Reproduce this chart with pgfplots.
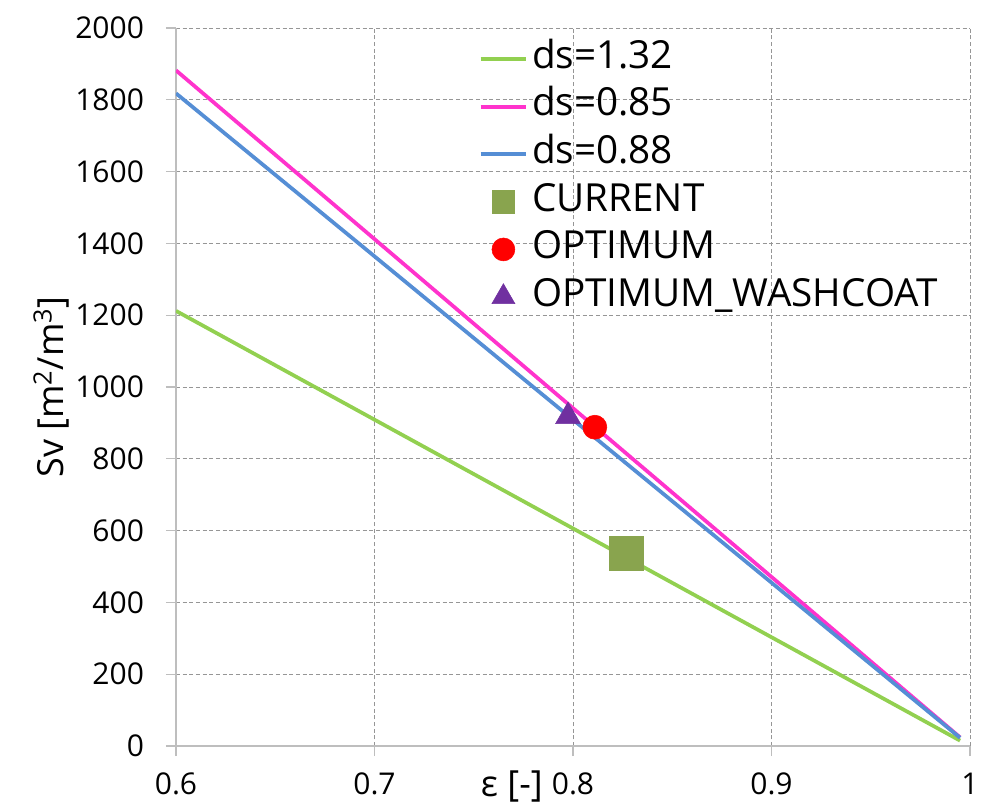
\documentclass[border=0pt]{standalone}
\usepackage{fontspec}
\setmainfont{Open Sans}
\usepackage{graphicx}
\usepackage{pgfplots}
\pgfplotsset{compat=1.18}
\definecolor{cgreen}{RGB}{146,208,80}
\definecolor{cpink}{RGB}{255,51,204}
\definecolor{cblue}{RGB}{85,142,213}
\definecolor{csq}{RGB}{137,164,78}
\definecolor{cpurple}{RGB}{112,48,160}
\definecolor{cgrid}{RGB}{150,150,150}
\definecolor{caxis}{RGB}{190,190,190}
\pgfplotsset{
  myleg/.style={legend image code/.code={\draw[##1, mark repeat=2, mark phase=2] plot coordinates {(0cm,0cm) (0.6cm,0cm) (1.2cm,0cm)};}},
}
\begin{document}
\begin{tikzpicture}
\begin{axis}[
  at={(0,0)}, anchor=south west,
  scale only axis, width=595.5pt, height=538.5pt,
  xmin=0.6, xmax=1, ymin=0, ymax=2000,
  xtick={0.6,0.7,0.8,0.9,1}, ytick={0,200,...,2000},
  separate axis lines,
  axis x line*=bottom, axis y line*=left,
  axis line style={caxis, line width=1.2pt},
  grid=major, major grid style={cgrid, dash pattern=on 3pt off 2pt, line width=0.6pt},
  tick align=outside, major tick length=7.5pt,
  tick style={caxis, line width=1pt, solid},
  /pgf/number format/assume math mode=true,
  /pgf/number format/1000 sep={},
  ticklabel style={font=\fontsize{22.5}{26}\selectfont, text=black},
  yticklabel style={xshift=-13pt},
  xticklabel style={yshift=-9pt},
  xlabel={ε [-]},
  xlabel style={at={(axis description cs:0.423,-0.071)}, anchor=base, font=\fontsize{27}{30}\selectfont},
  ylabel={Sv [m\textsuperscript{2}/m\textsuperscript{3}]},
  ylabel style={at={(axis description cs:-0.157,0.5)}, anchor=center, font=\fontsize{27}{30}\selectfont},
  legend cell align=left,
  legend style={at={(axis description cs:0.381,0.985)}, anchor=north west, draw=none, fill=none,
    inner sep=0pt, font=\fontsize{29}{33}\selectfont,
    nodes={inner sep=0pt, text height=22pt, text depth=8pt},
    row sep=5.7pt, /tikz/column sep=3pt},
]
\addplot[cgreen, line width=2.8pt, myleg] coordinates {(0.6,1212) (0.7,909) (0.8,606) (0.9,303) (0.995,15)};
\addlegendentry{ds=1.32}
\addplot[cpink, line width=2.8pt, myleg] coordinates {(0.6,1882) (0.7,1412) (0.8,941) (0.9,471) (0.995,24)};
\addlegendentry{ds=0.85}
\addplot[cblue, line width=2.8pt, myleg] coordinates {(0.6,1818) (0.7,1364) (0.8,909) (0.9,455) (0.995,23)};
\addlegendentry{ds=0.88}
\addplot[only marks, mark=square*, mark size=12.75pt, color=csq, myleg, legend image post style={mark size=8.5pt}] coordinates {(0.827,537)};
\addlegendentry{CURRENT}
\addplot[only marks, mark=*, mark size=9pt, color=red, myleg, legend image post style={mark size=8.6pt}] coordinates {(0.811,888)};
\addlegendentry{OPTIMUM}
\addplot[only marks, mark=triangle*, mark size=10.8pt, color=cpurple, myleg, legend image post style={mark size=10pt}] coordinates {(0.7975,918)};
\addlegendentry{OPTIMUM\_WASHCOAT}
\end{axis}
\pgfresetboundingbox
\path (-132pt,-48.75pt) rectangle (606pt,559.5pt);
\end{tikzpicture}
\end{document}
